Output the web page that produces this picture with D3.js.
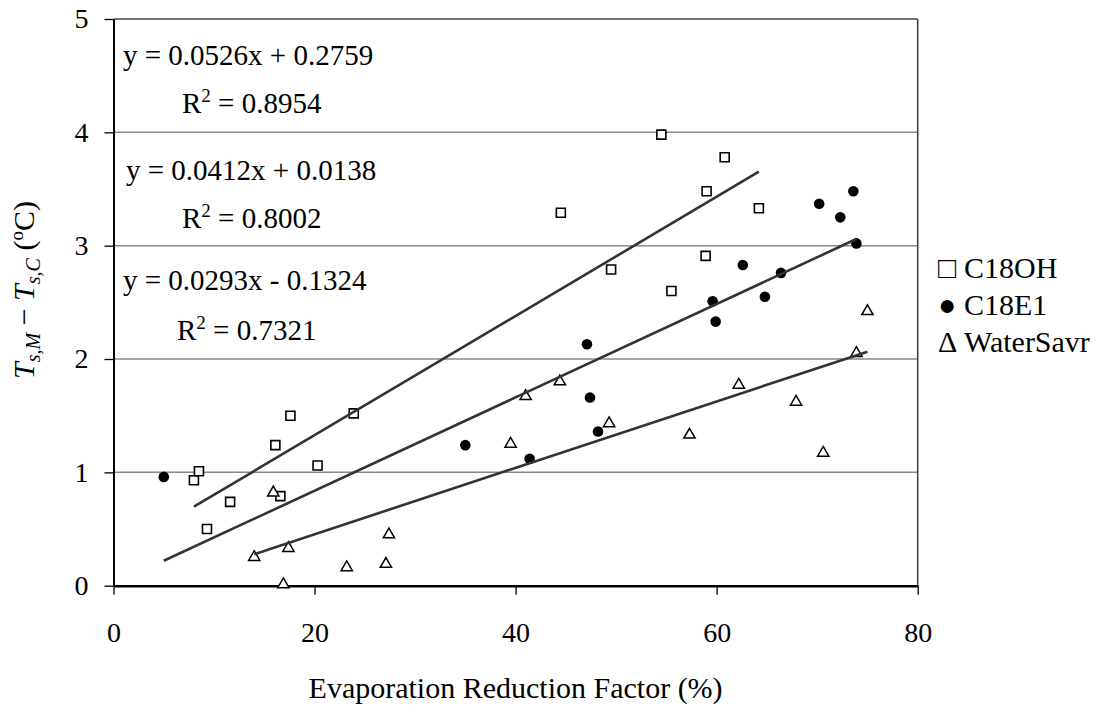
<!DOCTYPE html>
<html>
<head>
<meta charset="utf-8">
<script src="https://cdn.jsdelivr.net/npm/d3@7"></script>
<style>
	body { margin: 0; background: #fff; }
</style>
</head>
<body>
<div class="chart"></div>
<script>
// values
let c18ohX = [8.0, 8.5, 9.3, 11.6, 16.1, 16.6, 17.6, 20.3, 23.9, 44.5, 49.5, 54.5, 55.5, 58.9, 59.0, 60.8, 64.2]
let c18ohY = [0.93, 1.01, 0.50, 0.74, 1.24, 0.79, 1.50, 1.06, 1.52, 3.29, 2.79, 3.98, 2.60, 2.91, 3.48, 3.78, 3.33]

let c18e1X = [5.0, 35.0, 41.4, 47.1, 47.4, 48.2, 59.6, 59.9, 62.6, 64.8, 66.4, 70.2, 72.3, 73.6, 73.9]
let c18e1Y = [0.96, 1.24, 1.12, 2.13, 1.66, 1.36, 2.51, 2.33, 2.83, 2.55, 2.76, 3.37, 3.25, 3.48, 3.02]

let waterX = [14.0, 15.9, 16.9, 17.4, 23.2, 27.1, 27.4, 39.5, 41.0, 44.4, 49.3, 57.3, 62.2, 67.9, 70.6, 73.9, 75.0]
let waterY = [0.26, 0.83, 0.02, 0.34, 0.17, 0.20, 0.46, 1.26, 1.68, 1.81, 1.44, 1.34, 1.78, 1.63, 1.18, 2.06, 2.43]

let seriesNames = ['C18OH', 'C18E1', 'WaterSavr']
let legendGlyphs = ['\u25A1', '\u25CF', '\u0394']
let fitSlope = [0.0526, 0.0412, 0.0293]
let fitIntercept = [0.2759, 0.0138, -0.1324]
let eqLabels = ['y = 0.0526x + 0.2759', 'y = 0.0412x + 0.0138', 'y = 0.0293x - 0.1324']
let r2Labels = ['0.8954', '0.8002', '0.7321']
let xTicks = [0, 20, 40, 60, 80]
let yTicks = [0, 1, 2, 3, 4, 5]
let gridTicks = [1, 2, 3, 4]

const width = 1108
const height = 713
const mLeft = 113.5, mRight = 917.7, mTop = 19, mBottom = 585.7
const serif = 'Liberation Serif, LiberationSerif, Times New Roman, Times, Tinos, Nimbus Roman, Nimbus Roman No9 L, FreeSerif, Noto Serif, DejaVu Serif, serif'

let svg = d3.select('.chart')
	.append('svg')
	.attr('width', width)
	.attr('height', height)
	.attr('font-family', serif)

let x = d3.scaleLinear().domain([0, 80]).range([mLeft, mRight])
let y = d3.scaleLinear().domain([0, 5]).range([mBottom, mTop])

// gridlines
svg.append('g')
	.selectAll('line')
	.data(gridTicks)
	.enter().append('line')
	.attr('x1', mLeft)
	.attr('x2', mRight)
	.attr('y1', (d) => y(d))
	.attr('y2', (d) => y(d))
	.attr('stroke', '#8a8a8a')
	.attr('stroke-width', 1.5)

// frame top and right
svg.append('line')
	.attr('x1', mLeft).attr('x2', mRight)
	.attr('y1', y(5)).attr('y2', y(5))
	.attr('stroke', '#444').attr('stroke-width', 1.6)
svg.append('line')
	.attr('x1', x(80)).attr('x2', x(80))
	.attr('y1', mTop).attr('y2', mBottom)
	.attr('stroke', '#444').attr('stroke-width', 1.6)

let xAxis = svg.append('g')
	.attr('transform', 'translate(0,' + mBottom + ')')
	.call(d3.axisBottom(x).tickValues(xTicks).tickSize(9).tickSizeOuter(0).tickPadding(27).tickFormat(d3.format('d')))
	.attr('font-family', serif)
	.attr('font-size', 28)
xAxis.select('.domain').attr('stroke', '#000').attr('stroke-width', 2.6)
xAxis.selectAll('.tick line').attr('stroke', '#000').attr('stroke-width', 1.3)
xAxis.selectAll('.tick text').attr('fill', '#000')

let yAxis = svg.append('g')
	.attr('transform', 'translate(' + mLeft + ',0)')
	.call(d3.axisLeft(y).tickValues(yTicks).tickSize(9).tickSizeOuter(0).tickPadding(16).tickFormat(d3.format('d')))
	.attr('font-family', serif)
	.attr('font-size', 28)
yAxis.select('.domain').attr('stroke', '#000').attr('stroke-width', 2)
yAxis.selectAll('.tick line').attr('stroke', '#000').attr('stroke-width', 1.3)
yAxis.selectAll('.tick text').attr('fill', '#000')

// markers
let zip = (xs, ys) => xs.map((d, i) => ({ x: d, y: ys[i] }))

svg.append('g')
	.selectAll('path')
	.data(zip(c18ohX, c18ohY))
	.enter().append('path')
	.attr('d', d3.symbol().type(d3.symbolSquare).size(81))
	.attr('transform', (d) => 'translate(' + x(d.x) + ',' + y(d.y) + ')')
	.attr('fill', '#fff')
	.attr('stroke', '#000')
	.attr('stroke-width', 1.6)

svg.append('g')
	.selectAll('circle')
	.data(zip(c18e1X, c18e1Y))
	.enter().append('circle')
	.attr('cx', (d) => x(d.x))
	.attr('cy', (d) => y(d.y))
	.attr('r', 5.3)
	.attr('fill', '#000')

svg.append('g')
	.selectAll('path')
	.data(zip(waterX, waterY))
	.enter().append('path')
	.attr('d', d3.symbol().type(d3.symbolTriangle).size(55))
	.attr('transform', (d) => 'translate(' + x(d.x) + ',' + (y(d.y) + 1) + ')')
	.attr('fill', '#fff')
	.attr('stroke', '#000')
	.attr('stroke-width', 1.5)

// linear trendlines over the data range of each series
let allX = [c18ohX, c18e1X, waterX]
svg.append('g')
	.selectAll('line')
	.data(allX)
	.enter().append('line')
	.attr('x1', (d) => x(d3.min(d)))
	.attr('x2', (d) => x(d3.max(d)))
	.attr('y1', (d, i) => y(fitSlope[i] * d3.min(d) + fitIntercept[i]))
	.attr('y2', (d, i) => y(fitSlope[i] * d3.max(d) + fitIntercept[i]))
	.attr('stroke', '#333')
	.attr('stroke-width', 2.6)

// equations
let eqPos = [[123, 65, 182, 113], [126, 180, 182, 228], [123, 290, 177, 340]]
eqLabels.forEach((d, i) => {
	svg.append('text')
		.attr('x', eqPos[i][0])
		.attr('y', eqPos[i][1])
		.attr('font-size', 29)
		.text(d)
	let r = svg.append('text')
		.attr('x', eqPos[i][2])
		.attr('y', eqPos[i][3])
		.attr('font-size', 29)
	r.append('tspan').text('R')
	r.append('tspan').attr('dy', -11).attr('font-size', 19).text('2')
	r.append('tspan').attr('dy', 11).text(' = ' + r2Labels[i])
})

// legend
let legend = svg.selectAll('.legend')
	.data(seriesNames)
	.enter().append('g')
	.attr('class', 'legend')
	.attr('transform', (d, i) => 'translate(0,' + (278 + i * 37) + ')')

legend.append('text')
	.attr('x', 938)
	.attr('font-size', 30)
	.text((d, i) => legendGlyphs[i])
legend.append('text')
	.attr('x', 964)
	.attr('font-size', 30)
	.text((d) => d)

// axis titles
svg.append('text')
	.attr('x', (mLeft + mRight) / 2)
	.attr('y', 698)
	.attr('text-anchor', 'middle')
	.attr('font-size', 30)
	.text('Evaporation Reduction Factor (%)')

let yt = svg.append('text')
	.attr('transform', 'translate(34,290) rotate(-90)')
	.attr('text-anchor', 'middle')
	.attr('font-size', 30)
yt.append('tspan').attr('font-style', 'italic').text('T')
yt.append('tspan').attr('dy', 6).attr('font-style', 'italic').attr('font-size', 20).text('s,M')
yt.append('tspan').attr('dy', -6).text(' \u2212 ')
yt.append('tspan').attr('font-style', 'italic').text('T')
yt.append('tspan').attr('dy', 6).attr('font-style', 'italic').attr('font-size', 20).text('s,C')
yt.append('tspan').attr('dy', -6).text(' (')
yt.append('tspan').attr('dy', -11).attr('font-size', 19).text('o')
yt.append('tspan').attr('dy', 11).text('C)')
</script>
</body>
</html>
